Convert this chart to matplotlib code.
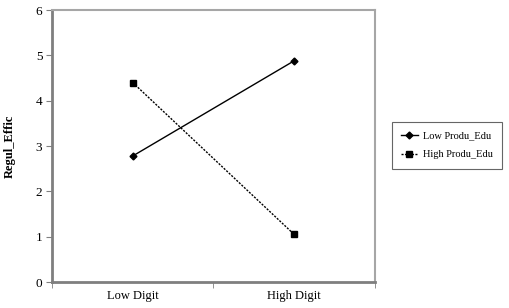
import matplotlib
matplotlib.use("Agg")
import matplotlib.pyplot as plt
from matplotlib.ticker import FixedLocator

categories = ["Low Digit", "High Digit"]
low_produ_edu = [2.78, 4.88]
high_produ_edu = [4.40, 1.05]
series_names = ["Low Produ_Edu", "High Produ_Edu"]
yticks = [0, 1, 2, 3, 4, 5, 6]

plt.rcParams['font.family'] = ['Liberation Serif', 'DejaVu Serif']

fig = plt.figure(figsize=(5.1, 3.08), dpi=100)
ax = fig.add_axes([0.102, 0.0844, 0.633, 0.883])

x = [0.5, 1.5]
l1, = ax.plot(x, low_produ_edu, color='black', lw=1.0, marker='D', ms=3.5,
              label=series_names[0])
l2, = ax.plot(x, high_produ_edu, color='black', lw=1.0, ls=(0, (1.5, 1)),
              marker='s', ms=4.5, label=series_names[1])

ax.set_xlim(0, 2)
ax.set_ylim(0, 6)
ax.set_yticks(yticks)
ax.set_xticks(x)
ax.set_xticklabels(categories)
ax.xaxis.set_minor_locator(FixedLocator([0, 1, 2]))
ax.tick_params(axis='x', which='major', length=0, pad=6, labelsize=9)
ax.tick_params(axis='x', which='minor', length=4, direction='out', color='#808080')
ax.tick_params(axis='y', length=4, direction='out', color='#808080', labelsize=9.5, pad=3)

for s in ['left', 'bottom']:
    ax.spines[s].set_color('#7f7f7f')
    ax.spines[s].set_linewidth(2.0)
for s in ['top', 'right']:
    ax.spines[s].set_color('#a6a6a6')
    ax.spines[s].set_linewidth(1.5)

ax.set_ylabel("Regul_Effic", fontweight='bold', fontsize=9, labelpad=14)

leg = fig.legend(handles=[l1, l2], loc='center', bbox_to_anchor=(0.876, 0.528),
                 frameon=True, fancybox=False, fontsize=7.5, handlelength=1.6,
                 handletextpad=0.5, borderpad=0.9, labelspacing=0.9,
                 edgecolor='#404040')
leg.get_frame().set_linewidth(0.8)

fig.savefig("out.png", dpi=100)
